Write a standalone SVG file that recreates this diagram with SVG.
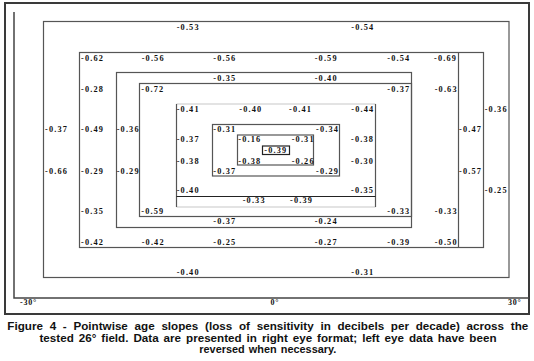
<svg xmlns="http://www.w3.org/2000/svg" width="534" height="361" viewBox="0 0 534 361">
<style>
.frame{fill:none;stroke:#3a3a3a;stroke-width:2}
.axis{fill:none;stroke:#444;stroke-width:1.5}
.ring{fill:none;stroke:#555;stroke-width:1.2}
.light{fill:none;stroke:#c8c8c8;stroke-width:1.2}
.dark{fill:none;stroke:#222;stroke-width:1.2}
.v{font-family:"Liberation Serif","Times New Roman",serif;font-weight:bold;font-size:8.3px;letter-spacing:1.15px;fill:#111}
.ax{font-family:"Liberation Serif","Times New Roman",serif;font-weight:bold;font-size:8px;letter-spacing:0.8px;fill:#111}
.cap{font-family:"Liberation Sans",Arial,sans-serif;font-weight:bold;font-size:10px;fill:#111}
</style>
<rect width="534" height="361" fill="#fff"/>
<g id="frame">
<rect class="frame" x="5" y="3" width="524" height="311"/>
</g>
<g id="axes">
<polyline class="axis" points="14,12 14,298 529,298"/>
<text class="ax" x="20" y="304.5">-30°</text>
<text class="ax" x="270.5" y="304.5">0°</text>
<text class="ax" x="508" y="304.5">30°</text>
</g>
<g id="rings">
<rect id="ringA" class="ring" x="43.5" y="21.5" width="465.5" height="256"/>
<g id="ringB">
<rect class="ring" x="79.5" y="52.5" width="404" height="195"/>
<line class="ring" x1="458.5" y1="52.5" x2="458.5" y2="247.5"/>
</g>
<rect id="ringC" class="ring" x="116.5" y="72.5" width="295" height="155"/>
<rect id="ringD" class="ring" x="139.5" y="83.5" width="272" height="133"/>
<g id="ringE">
<line class="light" x1="176.5" y1="104" x2="375.5" y2="104"/>
<line class="light" x1="176.5" y1="207" x2="375.5" y2="207"/>
<line class="ring" x1="176.5" y1="104" x2="176.5" y2="207"/>
<line class="ring" x1="375.5" y1="104" x2="375.5" y2="207"/>
<line class="dark" x1="176.5" y1="196.5" x2="375.5" y2="196.5"/>
</g>
<rect id="ringF" class="ring" x="212.5" y="124.5" width="127" height="51.5"/>
<rect id="ringG" class="ring" x="237.5" y="135" width="76" height="30"/>
<rect id="ringH" class="dark" x="262.5" y="146" width="27" height="8.5"/>
</g>
<g id="values" class="v">
<text x="176.7" y="29.5">-0.53</text>
<text x="351.3" y="29.5">-0.54</text>
<text x="81" y="60.7">-0.62</text>
<text x="141.7" y="60.7">-0.56</text>
<text x="213.3" y="60.7">-0.56</text>
<text x="314.7" y="60.7">-0.59</text>
<text x="387.3" y="60.7">-0.54</text>
<text x="434" y="60.7">-0.69</text>
<text x="213.3" y="81">-0.35</text>
<text x="314.7" y="81">-0.40</text>
<text x="81" y="91.7">-0.28</text>
<text x="141.3" y="91.7">-0.72</text>
<text x="387.3" y="91.7">-0.37</text>
<text x="434.7" y="91.7">-0.63</text>
<text x="176.7" y="111.7">-0.41</text>
<text x="239.3" y="111.7">-0.40</text>
<text x="289" y="111.7">-0.41</text>
<text x="351.3" y="111.7">-0.44</text>
<text x="484.7" y="111.7">-0.36</text>
<text x="45" y="131.5">-0.37</text>
<text x="81" y="131.5">-0.49</text>
<text x="116.7" y="131.5">-0.36</text>
<text x="213.3" y="131.5">-0.31</text>
<text x="316" y="131.5">-0.34</text>
<text x="459" y="131.5">-0.47</text>
<text x="176.7" y="142">-0.37</text>
<text x="238.3" y="142">-0.16</text>
<text x="291.7" y="142">-0.31</text>
<text x="351" y="142">-0.38</text>
<text x="264.3" y="153.3">-0.39</text>
<text x="176.7" y="164.3">-0.38</text>
<text x="238.3" y="164.3">-0.38</text>
<text x="291.7" y="164.3">-0.26</text>
<text x="351" y="164.3">-0.30</text>
<text x="45" y="173.7">-0.66</text>
<text x="81" y="173.7">-0.29</text>
<text x="116.7" y="173.7">-0.29</text>
<text x="213.3" y="173.7">-0.37</text>
<text x="316" y="173.7">-0.29</text>
<text x="459" y="173.7">-0.57</text>
<text x="176.7" y="193.3">-0.40</text>
<text x="351" y="193.3">-0.35</text>
<text x="484.7" y="193.3">-0.25</text>
<text x="242.7" y="202.7">-0.33</text>
<text x="290" y="202.7">-0.39</text>
<text x="81" y="214">-0.35</text>
<text x="141.3" y="214">-0.59</text>
<text x="387.3" y="214">-0.33</text>
<text x="434.7" y="214">-0.33</text>
<text x="213.3" y="224">-0.37</text>
<text x="314.7" y="224">-0.24</text>
<text x="81" y="244.7">-0.42</text>
<text x="141.7" y="244.7">-0.42</text>
<text x="213.3" y="244.7">-0.25</text>
<text x="314.7" y="244.7">-0.27</text>
<text x="387.3" y="244.7">-0.39</text>
<text x="434.7" y="244.7">-0.50</text>
<text x="176.7" y="275">-0.40</text>
<text x="351.3" y="275">-0.31</text>
</g>
<g id="caption" class="cap">
<text x="7.3" y="330" textLength="521" lengthAdjust="spacingAndGlyphs" word-spacing="3">Figure 4 - Pointwise age slopes (loss of sensitivity in decibels per decade) across the</text>
<text x="39.5" y="341.5" textLength="457" lengthAdjust="spacingAndGlyphs" word-spacing="1.5">tested 26° field. Data are presented in right eye format; left eye data have been</text>
<text x="199.3" y="353" textLength="137" lengthAdjust="spacingAndGlyphs" word-spacing="1">reversed when necessary.</text>
</g>
</svg>
